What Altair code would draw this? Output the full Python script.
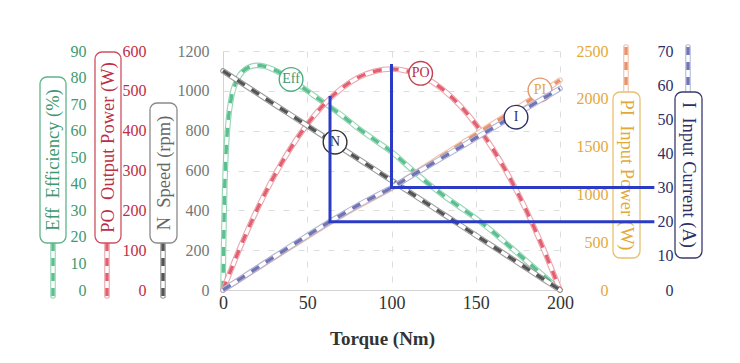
import altair as alt
import pandas as pd

FONT = "Liberation Serif"

# ---- data ----
torque = [0, 10, 20, 30, 40, 50, 60, 70, 80, 90, 100, 110, 120, 130, 140, 150, 160, 170, 180, 190, 200]
eff_torque = [0, 0.5, 1, 2, 3, 5, 7.5, 10, 15, 20, 25, 30, 40, 50, 60, 70, 80, 90, 100,
              110, 120, 130, 140, 150, 160, 170, 180, 190, 200]
eff_values = [0, 22, 38, 54, 63, 72.5, 78, 81, 83.8, 84.6, 84.2, 83, 79.5, 75, 70.5, 66, 61, 56.5, 52,
              46.5, 41, 36, 31.5, 27, 22, 16.5, 11, 5.5, 0]
po_values = [0, 105, 200, 283, 355, 416, 466, 505, 533, 549, 555, 549, 533, 505, 466, 416, 355, 283, 200, 105, 0]
speed_values = [1100, 1045, 990, 935, 880, 825, 770, 715, 660, 605, 550, 495, 440, 385, 330, 275, 220, 165, 110, 55, 0]
pi_values = [0, 112, 224, 336, 448, 558, 668, 775, 875, 970, 1065, 1178, 1290, 1402, 1514, 1626, 1738, 1850, 1962, 2078, 2195]
current_values = [0, 3.2, 6.4, 9.6, 12.8, 15.9, 19.0, 21.9, 24.8, 27.4, 30.0, 32.9, 35.8, 38.7, 41.6, 44.5,
                  47.4, 50.3, 53.2, 56.1, 59.0]

# curve label positions (torque, value in the curve's own units)
label_names = ["Eff", "PO", "N", "PI", "I"]
label_torque = [40.4, 117.3, 66.5, 188.1, 173.9]
label_values = [79.3, 544, 742, 2092, 50.6]

# operating-point guide lines (in current units)
guide_seg = ["a", "a", "a", "b", "b", "b"]
guide_torque = [63.5, 63.5, 256, 100, 100, 256]
guide_current = [56.8, 20, 20, 66.2, 30, 30]

x_ticks = [0, 50, 100, 150, 200]
eff_ticks = [0, 10, 20, 30, 40, 50, 60, 70, 80, 90]
po_ticks = [0, 100, 200, 300, 400, 500, 600]
speed_ticks = [0, 200, 400, 600, 800, 1000, 1200]
pi_ticks = [0, 500, 1000, 1500, 2000, 2500]
current_ticks = [0, 10, 20, 30, 40, 50, 60, 70]

W, H = 337, 239

X = alt.X(
    "T:Q",
    scale=alt.Scale(domain=[0, 200], nice=False, zero=False),
    axis=alt.Axis(
        values=x_ticks, grid=True, gridColor="#dddddd", gridDash=[6, 9],
        domainColor="#d4d4d4", ticks=False, labelFont=FONT, labelFontSize=18,
        labelColor="#333333", labelPadding=4, labelFlush=False, format="d",
        title="Torque (Nm)", titleFont=FONT,
        titleFontSize=19, titleFontWeight="bold", titleColor="#333333",
        titleX=159, titleY=48, titleAlign="center", titleBaseline="middle",
    ),
)


def yaxis(orient, offset, pad, values, color, align=None, grid=False, domain=False):
    kw = dict(orient=orient, offset=offset, labelPadding=pad, values=values,
              labelColor=color, labelFont=FONT, labelFontSize=16, ticks=False,
              tickSize=0, domain=domain, grid=grid, title=None, labelFlush=False,
              format="d")
    if align:
        kw["labelAlign"] = align
    if grid:
        kw["gridColor"] = "#dddddd"
        kw["gridDash"] = [6, 9]
    if domain:
        kw["domainColor"] = "#d4d4d4"
    return alt.Axis(**kw)


def series(tvals, vvals, idx, domain, axis, dash_color, outline_color, text_color, circle_stroke, extra=None):
    df = pd.DataFrame({"T": tvals, "v": vvals})
    lab = pd.DataFrame({"T": [label_torque[idx]], "v": [label_values[idx]]})
    Y = alt.Y("v:Q", scale=alt.Scale(domain=domain, nice=False, zero=False), axis=axis)
    base = alt.Chart(df).encode(x=X, y=Y)
    outline = base.mark_line(interpolate="monotone", color=outline_color, strokeWidth=5.6,
                             strokeCap="round", opacity=0.85)
    white = base.mark_line(interpolate="monotone", color="white", strokeWidth=3.4, strokeCap="round")
    dash = base.mark_line(interpolate="monotone", color=dash_color, strokeWidth=3.4, strokeDash=[9, 8])
    lb = alt.Chart(lab).encode(x=X, y=Y)
    circ = lb.mark_circle(size=560, fill="white", stroke=circle_stroke, strokeWidth=1.4, opacity=1)
    txt = lb.mark_text(text=label_names[idx], font=FONT, fontSize=14, color=text_color)
    layers = [outline, white, dash, circ, txt]
    if extra is not None:
        layers.append(extra(Y))
    return alt.layer(*layers)


def guides(Y):
    gdf = pd.DataFrame({"seg": guide_seg, "T": guide_torque, "v": guide_current,
                        "o": list(range(len(guide_seg)))})
    return alt.Chart(gdf).mark_line(color="#2b3bc4", strokeWidth=3, strokeJoin="miter").encode(
        x=X, y=Y, detail="seg:N", order="o:Q")


eff = series(eff_torque, eff_values, 0, [0, 90],
             yaxis("left", 134, 3, eff_ticks, "#3d9970"),
             "#5cbf8f", "#84cfa8", "#3d9970", "#4fae80")
po = series(torque, po_values, 1, [0, 600],
            yaxis("left", 74, 3, po_ticks, "#bd2e44"),
            "#e2606f", "#ea95a0", "#bd2e44", "#c8404f")
speed = series(torque, speed_values, 2, [0, 1200],
               yaxis("left", 0, 14, speed_ticks, "#777777", grid=True, domain=True),
               "#555555", "#8a8a8a", "#333333", "#333333")
pin = series(torque, pi_values, 3, [0, 2500],
             yaxis("right", 0, 48, pi_ticks, "#e2a93a", align="right"),
             "#e8926e", "#efb89c", "#e2a93a", "#e39a6e")
cur = series(torque, current_values, 4, [0, 70],
             yaxis("right", 0, 113, current_ticks, "#2e2f66", align="right"),
             "#7075b5", "#a7abd3", "#2e2f66", "#2e2f66", extra=guides)

one = pd.DataFrame({"k": [0]})

box_text = ["Eff\u00a0\u00a0Efficiency (%)", "PO\u00a0\u00a0Output Power (W)", "N\u00a0\u00a0Speed (rpm)",
            "PI\u00a0\u00a0Input Power (W)", "I\u00a0\u00a0Input Current (A)"]
deco_specs = [
    (-170, 192, 245, -183, -157, 26, 192, 270, "#5cbf8f", "#84cfa8", "#3d9970", "#5fb48a"),
    (-116, 192, 245, -128, -102, 1, 192, 270, "#e2606f", "#ea95a0", "#bd2e44", "#d05060"),
    (-60, 192, 245, -73, -46, 52, 192, 270, "#555555", "#8a8a8a", "#666666", "#8a8a8a"),
    (403, -4, 41, 390, 417, 41, 207, 90, "#e8926e", "#efb89c", "#e2a93a", "#e8c070"),
    (465, -4, 41, 452, 479, 41, 207, 90, "#7075b5", "#a7abd3", "#2e2f66", "#3a3a70"),
]
deco = []
for (sx, y1, y2, bx0, bx1, by0, by1, ang, dcol, ocol, tcol, bcol), t in zip(deco_specs, box_text):
    b = alt.Chart(one)
    deco.append(b.mark_rule(color=ocol, strokeWidth=5.6, strokeCap="round", opacity=0.85).encode(
        x=alt.value(sx), y=alt.value(y1), y2=alt.value(y2)))
    deco.append(b.mark_rule(color="white", strokeWidth=3.4, strokeCap="round").encode(
        x=alt.value(sx), y=alt.value(y1), y2=alt.value(y2)))
    deco.append(b.mark_rule(color=dcol, strokeWidth=3.4, strokeDash=[8, 7]).encode(
        x=alt.value(sx), y=alt.value(y1), y2=alt.value(y2)))
    deco.append(b.mark_rect(fill="white", stroke=bcol, strokeWidth=1.3, cornerRadius=7).encode(
        x=alt.value(bx0), x2=alt.value(bx1), y=alt.value(by0), y2=alt.value(by1)))
    deco.append(b.mark_text(text=t, font=FONT, fontSize=18.5, color=tcol, angle=ang,
                            align="center", baseline="middle").encode(
        x=alt.value((bx0 + bx1) / 2), y=alt.value((by0 + by1) / 2)))

chart = alt.layer(*deco, eff, po, speed, pin, cur).resolve_scale(y="independent").properties(
    width=W, height=H,
    autosize=alt.AutoSizeParams(type="none"),
    padding={"left": 215, "top": 43, "right": 170, "bottom": 62},
    background="white",
).configure_view(stroke=None)

chart.save("out.html", embed_options={"renderer": "svg", "actions": False})
